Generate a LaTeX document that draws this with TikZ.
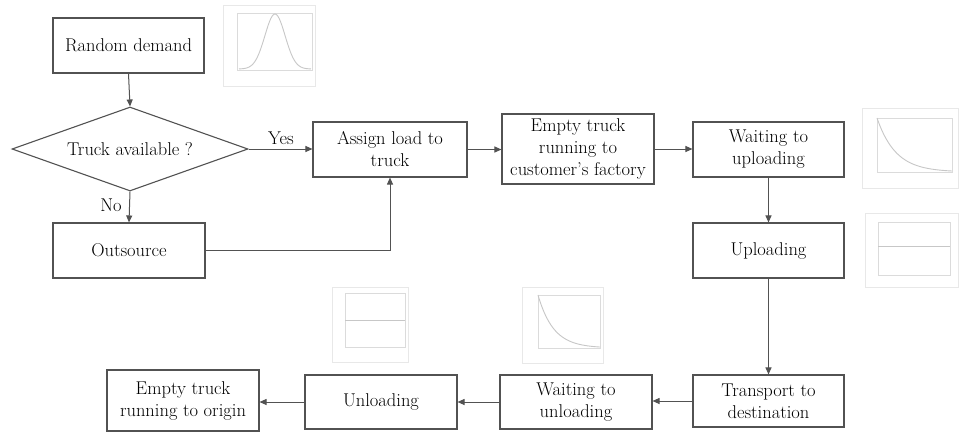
\documentclass[tikz,border=0pt]{standalone}
\usepackage{fontspec}
\usetikzlibrary{arrows.meta,shapes.geometric}
\begin{document}
\begin{tikzpicture}[x=1pt,y=-1pt,
  box/.style={draw=black!68, line width=1.1pt, align=center, inner sep=0pt,
    font=\fontsize{18.5}{22}\selectfont, text=black, fill=white},
  conn/.style={draw=black!68, line width=1.0pt, -{Triangle[length=7pt,width=6pt]}},
  lbl/.style={font=\fontsize{18.5}{22}\selectfont, text=black, inner sep=0pt},
  plotframe/.style={draw=black!9, line width=0.8pt, fill=white},
  axesbox/.style={draw=black!14, line width=0.6pt},
  curve/.style={draw=black!22, line width=0.9pt}]
\useasboundingbox (0,0) rectangle (959,432);

% plots
\draw[plotframe] (223,5) rectangle (315,86);
\draw[axesbox] (237,13) rectangle (312,70);
\draw[curve] plot[domain=-1:1, samples=60] ({275+36*\x}, {69-55*exp(-(\x*\x)/(2*0.28*0.28))});

\draw[plotframe] (862,108) rectangle (958,188);
\draw[axesbox] (877,118) rectangle (952,172);
\draw[curve] plot[domain=0:1, samples=50] ({877+75*\x}, {172-54*exp(-4*\x)});

\draw[plotframe] (865,213) rectangle (958,287);
\draw[axesbox] (878,222) rectangle (950,275);
\draw[curve] (878,246) -- (950,246);

\draw[plotframe] (332,287) rectangle (408,362);
\draw[axesbox] (345,293) rectangle (405,347);
\draw[curve] (345,320) -- (405,320);

\draw[plotframe] (522,287) rectangle (603,363);
\draw[axesbox] (538,295) rectangle (600,348);
\draw[curve] plot[domain=0:1, samples=50] ({538+62*\x}, {348-53*exp(-4*\x)});

% nodes
\node[box, minimum width=151pt, minimum height=55pt] (rd) at (128.5,45.5) {Random demand};
\node[box, shape=diamond, aspect=2.81, minimum width=236pt, minimum height=84pt] (dia) at (130,149) {Truck available ?};
\node[box, minimum width=152pt, minimum height=55pt] (out) at (129,250.5) {Outsource};
\node[box, minimum width=154pt, minimum height=55pt] (asg) at (390,149.5) {Assign load to\\truck};
\node[box, minimum width=152pt, minimum height=70pt] (etc) at (578,149) {Empty truck\\running to\\customer's factory};
\node[box, minimum width=151pt, minimum height=55pt] (wtu) at (768.5,149.5) {Waiting to\\uploading};
\node[box, minimum width=151pt, minimum height=55pt] (upl) at (768.5,250.5) {Uploading};
\node[box, minimum width=151pt, minimum height=52pt] (trn) at (768.5,401) {Transport to\\destination};
\node[box, minimum width=152pt, minimum height=54pt] (wtul) at (576,402) {Waiting to\\unloading};
\node[box, minimum width=152pt, minimum height=54pt] (unl) at (381,402) {Unloading};
\node[box, minimum width=152pt, minimum height=61pt] (eto) at (183,400.5) {Empty truck\\running to origin};

\node[lbl] (yes) at (281,138) {Yes};
\node[lbl] (no) at (111,205) {No};

% connectors
\draw[conn] (rd.south) -- (dia.north);
\draw[conn] (dia.east) -- (dia.east -| asg.west);
\draw[conn] (dia.south) -- (out.north);
\draw[conn] (out.east) -| (asg.south);
\draw[conn] (asg.east) -- (asg.east -| etc.west);
\draw[conn] (etc.east) -- (etc.east -| wtu.west);
\draw[conn] (wtu.south) -- (upl.north);
\draw[conn] (upl.south) -- (trn.north);
\draw[conn] (trn.west) -- (trn.west -| wtul.east);
\draw[conn] (wtul.west) -- (wtul.west -| unl.east);
\draw[conn] (unl.west) -- (unl.west -| eto.east);
\end{tikzpicture}
\end{document}
